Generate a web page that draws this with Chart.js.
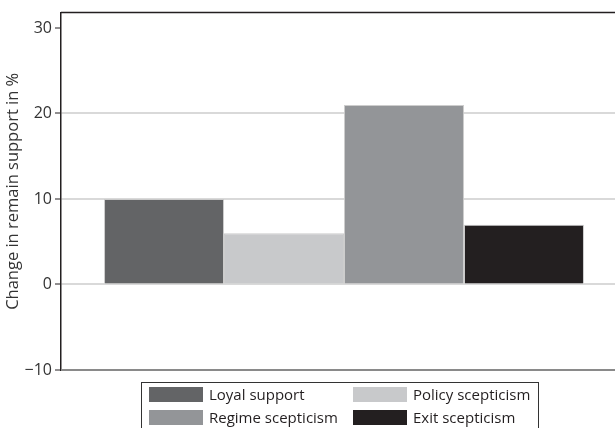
<!DOCTYPE html>
<html lang="en">
<head>
    <meta charset="UTF-8">
    <title>Change in remain support</title>
    <script src="https://cdn.jsdelivr.net/npm/chart.js"></script>
    <style>
        body {
            margin: 0;
            padding: 0;
            background: #fff;
            overflow: hidden;
            font-family: "Open Sans", "Noto Sans", sans-serif;
        }
        #wrap {
            position: relative;
            width: 627px;
            height: 428px;
        }
        #legend {
            position: absolute;
            left: 141px;
            top: 382px;
            width: 398px;
            height: 60px;
            border: 1px solid #333;
            box-sizing: border-box;
            padding: 4px 0 0 7px;
            display: grid;
            grid-template-columns: 54px 138px 54px auto;
            column-gap: 6px;
            row-gap: 8px;
            grid-auto-rows: 15px;
            font-size: 15px;
            color: #231f20;
            align-items: center;
        }
        #legend .swatch {
            height: 15px;
        }
        #legend span {
            line-height: 15px;
            white-space: nowrap;
        }
    </style>
</head>
<body>
    <div id="wrap">
        <canvas id="chart" width="627" height="428"></canvas>
        <div id="legend"></div>
    </div>

    <script>
        // data
        const categories = ['All'];
        const seriesNames = ['Loyal support', 'Policy scepticism', 'Regime scepticism', 'Exit scepticism'];
        const seriesValues = [10, 6, 21, 7];
        const seriesColors = ['#636466', '#c8c9cb', '#939598', '#231f20'];
        const yTicks = [-10, 0, 10, 20, 30];
        const yTitle = 'Change in remain support in %';

        // legend order in the box: row by row
        const legendOrder = [0, 1, 2, 3];

        const frameLines = {
            id: 'frameLines',
            afterDraw(chart) {
                const { ctx, chartArea } = chart;
                ctx.save();
                // top border
                ctx.strokeStyle = '#231f20';
                ctx.lineWidth = 1.5;
                ctx.beginPath();
                ctx.moveTo(chartArea.left, chartArea.top);
                ctx.lineTo(chartArea.right, chartArea.top);
                ctx.stroke();
                // bottom line
                ctx.strokeStyle = '#8a8a8a';
                ctx.lineWidth = 2;
                ctx.beginPath();
                ctx.moveTo(chartArea.left, chartArea.bottom);
                ctx.lineTo(chartArea.right, chartArea.bottom);
                ctx.stroke();
                ctx.restore();
            }
        };

        const datasets = seriesNames.map((name, i) => ({
            label: name,
            data: [seriesValues[i]],
            backgroundColor: seriesColors[i],
            borderColor: 'rgba(200, 200, 200, 0.9)',
            borderWidth: 1,
            borderSkipped: 'bottom',
            barPercentage: 1,
            categoryPercentage: 0.848
        }));

        new Chart(document.getElementById('chart'), {
            type: 'bar',
            data: { labels: categories, datasets: datasets },
            options: {
                responsive: false,
                animation: false,
                layout: { padding: { top: 7, right: 0, bottom: 58, left: 0 } },
                plugins: {
                    legend: { display: false },
                    tooltip: { enabled: false }
                },
                scales: {
                    x: {
                        display: false
                    },
                    y: {
                        min: -10,
                        max: 31.8,
                        afterBuildTicks: scale => {
                            scale.ticks = yTicks.map(v => ({ value: v }));
                        },
                        afterFit: scale => {
                            scale.width = 61;
                        },
                        border: { display: true, color: '#231f20', width: 1.5 },
                        grid: {
                            color: ctx => (ctx.tick && (ctx.tick.value === -10 || ctx.tick.value === 30)) ? 'rgba(0,0,0,0)' : '#d9d9d9',
                            lineWidth: 2,
                            tickColor: '#231f20',
                            tickLength: 6,
                            tickWidth: 1
                        },
                        ticks: {
                            color: '#333',
                            padding: 3,
                            font: { family: '"Open Sans", "Noto Sans", sans-serif', size: 16 },
                            callback: v => v < 0 ? '\u2212' + Math.abs(v) : v
                        },
                        title: {
                            display: true,
                            text: yTitle,
                            color: '#333',
                            padding: { top: 3, bottom: 2 },
                            font: { family: '"Open Sans", "Noto Sans", sans-serif', size: 16.5 }
                        }
                    }
                }
            },
            plugins: [frameLines]
        });

        // html legend in a box below the plot
        const legendBox = document.getElementById('legend');
        legendOrder.forEach(i => {
            const sw = document.createElement('div');
            sw.className = 'swatch';
            sw.style.background = seriesColors[i];
            const label = document.createElement('span');
            label.textContent = seriesNames[i];
            legendBox.appendChild(sw);
            legendBox.appendChild(label);
        });
    </script>
</body>
</html>
